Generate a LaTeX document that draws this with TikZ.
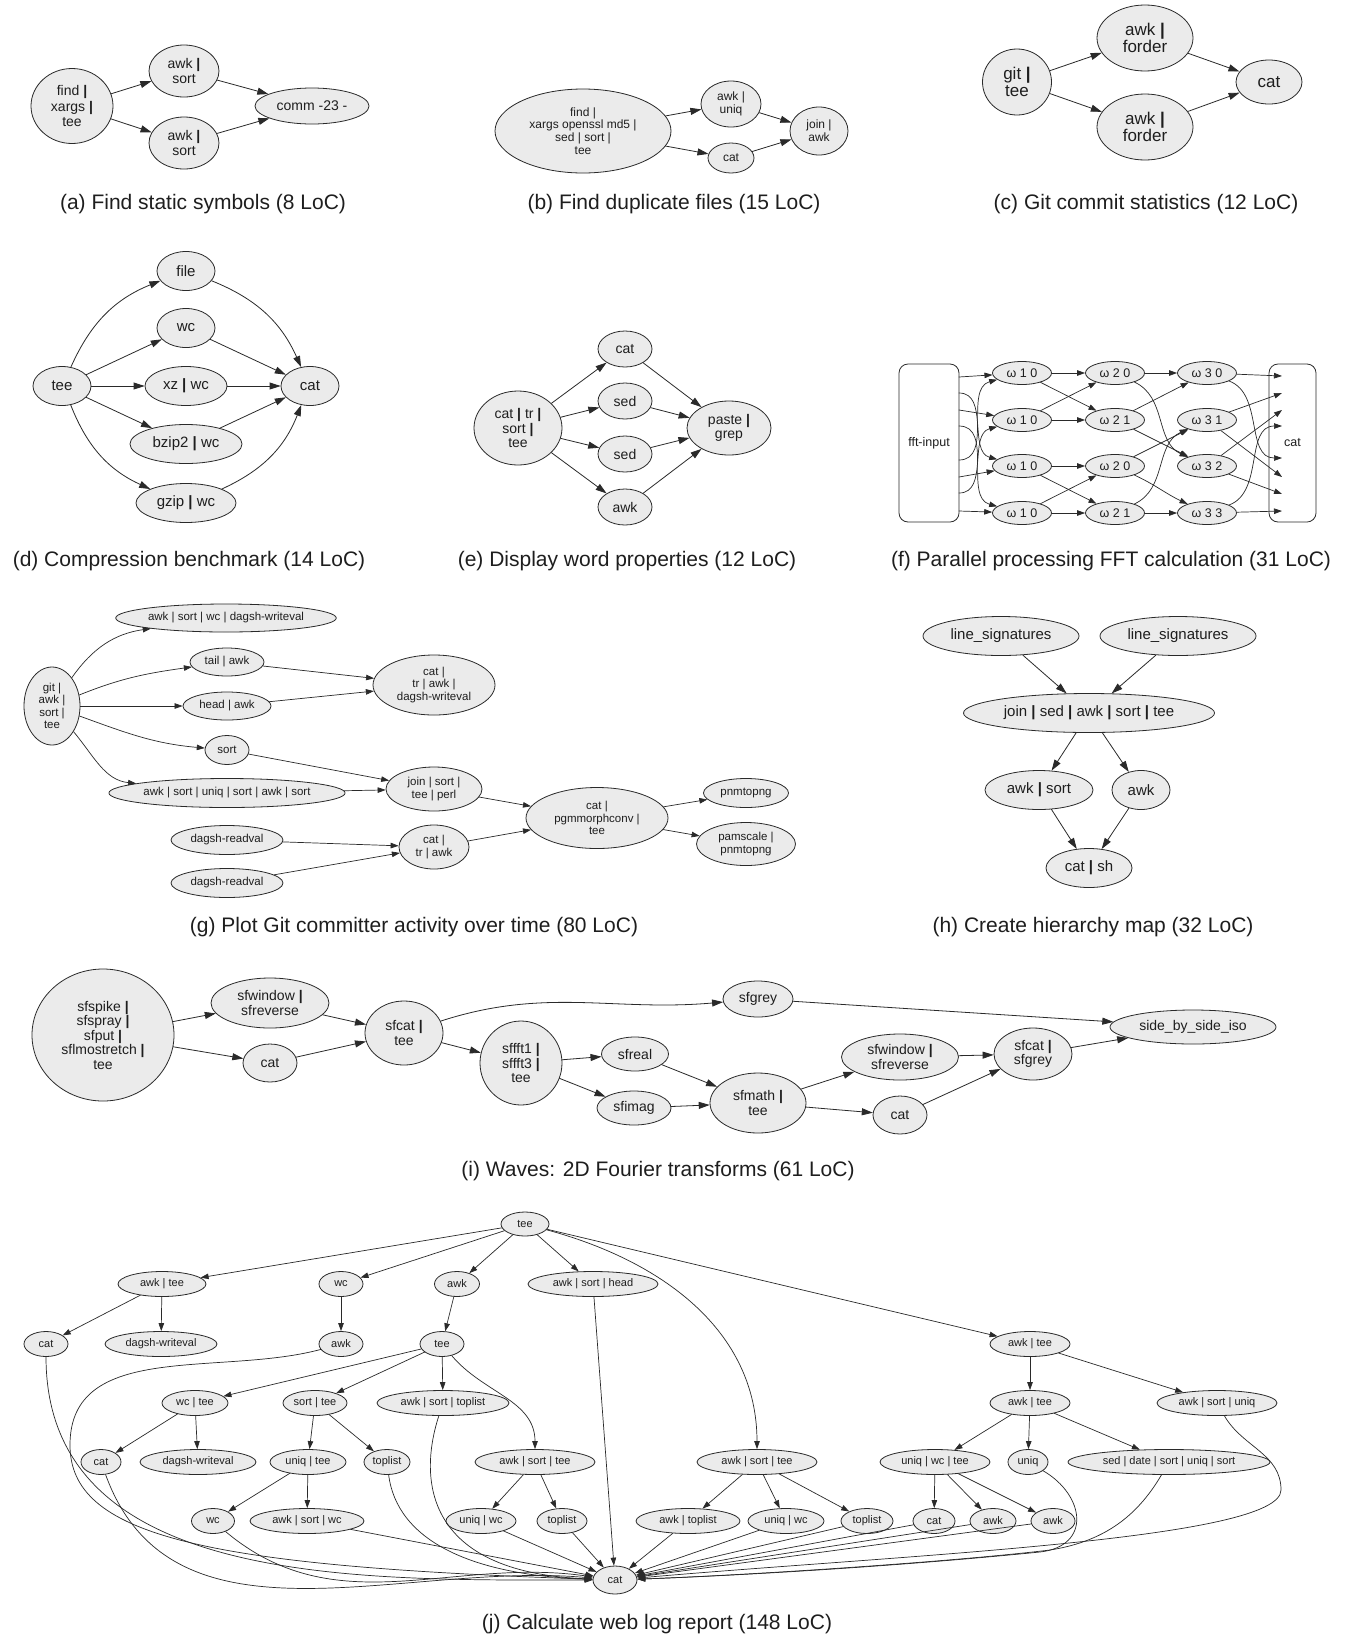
\documentclass[tikz,border=0pt]{standalone}
\usepackage{fontspec}
\setmainfont{Liberation Sans}
\usetikzlibrary{shapes.geometric,arrows.meta}
\definecolor{nfill}{HTML}{EBEBEB}
\definecolor{ln}{HTML}{2A2A2A}
\definecolor{tx}{HTML}{1E1E1E}
\newcommand{\bp}{\textbf{|}}
\tikzset{
  pn/.style 2 args={ellipse,draw=ln,fill=nfill,line width=0.8pt,inner sep=0pt,align=center,text=tx,minimum width=#1,minimum height=#2},
  port/.style={draw=ln,fill=white,rounded corners=9pt,line width=0.8pt,text=tx,inner sep=0pt},
  arr/.style={draw=ln,line width=0.8pt,-{Triangle[length=11pt,width=7pt]}},
  arrs/.style={draw=ln,line width=0.7pt,-{Triangle[length=8pt,width=5.5pt]}},
  subcap/.style={font=\fontsize{21}{24}\selectfont,text=tx}
}
\begin{document}
\begin{tikzpicture}[x=1pt,y=-1pt,line cap=round,line join=round]
\useasboundingbox[fill=white] (0,0) rectangle (1353,1639);

% (a)
\begin{scope}[font=\fontsize{14}{15.3}\selectfont]
\node[pn={82}{75}] (a1) at (72,106) {find \bp\\xargs \bp\\tee};
\node[pn={70}{52}] (a2) at (184,71) {awk \bp\\sort};
\node[pn={70}{52}] (a3) at (184,143) {awk \bp\\sort};
\node[pn={114}{36}] (a4) at (312,106) {comm -23 -};
\draw[arr] (a1) -- (a2);
\draw[arr] (a1) -- (a3);
\draw[arr] (a2) -- (a4);
\draw[arr] (a3) -- (a4);
\end{scope}
\node[subcap] (capa) at (203,204) {(a) Find static symbols (8 LoC)};

% (b)
\begin{scope}[font=\fontsize{12}{12.8}\selectfont]
\node[pn={176}{84}] (b1) at (583,131) {find |\\xargs openssl md5 |\\sed | sort |\\tee};
\node[pn={60}{46}] (b2) at (731,104) {awk |\\uniq};
\node[pn={46}{30}] (b3) at (731,158) {cat};
\node[pn={58}{48}] (b4) at (819,131) {join |\\awk};
\draw[arr] (b1) -- (b2);
\draw[arr] (b1) -- (b3);
\draw[arr] (b2) -- (b4);
\draw[arr] (b3) -- (b4);
\end{scope}
\node[subcap] (capb) at (674,204) {(b) Find duplicate files (15 LoC)};

% (c)
\begin{scope}[font=\fontsize{17}{17.5}\selectfont]
\node[pn={69}{66}] (c1) at (1017,82) {git \bp\\tee};
\node[pn={96}{66}] (c2) at (1145,38) {awk \bp\\forder};
\node[pn={96}{66}] (c3) at (1145,127) {awk \bp\\forder};
\node[pn={66}{44}] (c4) at (1269,82) {cat};
\draw[arr] (c1) -- (c2);
\draw[arr] (c1) -- (c3);
\draw[arr] (c2) -- (c4);
\draw[arr] (c3) -- (c4);
\end{scope}
\node[subcap] (capc) at (1146,204) {(c) Git commit statistics (12 LoC)};

% (d)
\begin{scope}[font=\fontsize{15}{16}\selectfont]
\node[pn={58}{39}] (d1) at (62,386) {tee};
\node[pn={58}{39}] (d2) at (186,271) {file};
\node[pn={58}{39}] (d3) at (186,328) {wc};
\node[pn={82}{39}] (d4) at (186,386) {xz \bp{} wc};
\node[pn={112}{39}] (d5) at (186,444) {bzip2 \bp{} wc};
\node[pn={100}{39}] (d6) at (186,503) {gzip \bp{} wc};
\node[pn={58}{39}] (d7) at (310,386) {cat};
\draw[arr] (d1) to[bend left=22] (d2);
\draw[arr] (d1) -- (d3);
\draw[arr] (d1) -- (d4);
\draw[arr] (d1) -- (d5);
\draw[arr] (d1) to[bend right=22] (d6);
\draw[arr] (d2) to[bend left=22] (d7);
\draw[arr] (d3) -- (d7);
\draw[arr] (d4) -- (d7);
\draw[arr] (d5) -- (d7);
\draw[arr] (d6) to[bend right=22] (d7);
\end{scope}
\node[subcap] (capd) at (189,561) {(d) Compression benchmark (14 LoC)};

% (e)
\begin{scope}[font=\fontsize{14}{14.6}\selectfont]
\node[pn={88}{74}] (e1) at (518,428) {cat \bp{} tr \bp\\sort \bp\\tee};
\node[pn={54}{36}] (e2) at (625,349) {cat};
\node[pn={54}{36}] (e3) at (625,401) {sed};
\node[pn={54}{36}] (e4) at (625,454) {sed};
\node[pn={54}{36}] (e5) at (625,507) {awk};
\node[pn={84}{54}] (e6) at (729,428) {paste \bp\\grep};
\foreach \k in {e2,e3,e4,e5} {
  \draw[arr] (e1) -- (\k);
  \draw[arr] (\k) -- (e6);
}
\end{scope}
\node[subcap] (cape) at (627,561) {(e) Display word properties (12 LoC)};

% (f)
\begin{scope}[font=\fontsize{12.5}{13}\selectfont]
\node[port,minimum width=60,minimum height=158] (ff) at (929,443) {fft-input};
\node[port,minimum width=47,minimum height=158] (fc) at (1292.5,443) {cat};
\node[pn={59}{23}] (w1a) at (1022,373) {ω 1 0};
\node[pn={59}{23}] (w1b) at (1022,420) {ω 1 0};
\node[pn={59}{23}] (w1c) at (1022,466) {ω 1 0};
\node[pn={59}{23}] (w1d) at (1022,513) {ω 1 0};
\node[pn={59}{23}] (w2a) at (1115,373) {ω 2 0};
\node[pn={59}{23}] (w2b) at (1115,420) {ω 2 1};
\node[pn={59}{23}] (w2c) at (1115,466) {ω 2 0};
\node[pn={59}{23}] (w2d) at (1115,513) {ω 2 1};
\node[pn={59}{23}] (w3a) at (1207,373) {ω 3 0};
\node[pn={59}{23}] (w3b) at (1207,420) {ω 3 1};
\node[pn={59}{23}] (w3c) at (1207,466) {ω 3 2};
\node[pn={59}{23}] (w3d) at (1207,513) {ω 3 3};
\coordinate (fo0) at (959,377); \coordinate (fo1) at (959,393);
\coordinate (fo2) at (959,410); \coordinate (fo3) at (959,426);
\coordinate (fo4) at (959,460); \coordinate (fo5) at (959,477);
\coordinate (fo6) at (959,493); \coordinate (fo7) at (959,511);
\coordinate (fi0) at (1282,376); \coordinate (fi1) at (1282,393);
\coordinate (fi2) at (1282,410); \coordinate (fi3) at (1282,426);
\coordinate (fi4) at (1282,458); \coordinate (fi5) at (1282,477);
\coordinate (fi6) at (1282,494); \coordinate (fi7) at (1282,511);
\draw[arrs] (fo0) -- (w1a);
\draw[arrs] (fo1) to[out=0,in=165] (w1c);
\draw[arrs] (fo2) -- (w1b);
\draw[arrs] (fo3) to[out=0,in=165] (w1d);
\draw[arrs] (fo4) to[out=0,in=195] (w1a);
\draw[arrs] (fo5) -- (w1c);
\draw[arrs] (fo6) to[out=0,in=195] (w1b);
\draw[arrs] (fo7) -- (w1d);
\draw[arrs] (w1a) -- (w2a);
\draw[arrs] (w1a) -- (w2b);
\draw[arrs] (w1b) -- (w2a);
\draw[arrs] (w1b) -- (w2b);
\draw[arrs] (w1c) -- (w2c);
\draw[arrs] (w1c) -- (w2d);
\draw[arrs] (w1d) -- (w2c);
\draw[arrs] (w1d) -- (w2d);
\draw[arrs] (w2a) -- (w3a);
\draw[arrs] (w2a) to[out=-25,in=155] (w3c);
\draw[arrs] (w2b) -- (w3a);
\draw[arrs] (w2b) -- (w3c);
\draw[arrs] (w2c) -- (w3b);
\draw[arrs] (w2c) to[out=-25,in=155] (w3d);
\draw[arrs] (w2d) to[out=25,in=205] (w3b);
\draw[arrs] (w2d) -- (w3d);
\draw[arrs] (w3a) -- (fi0);
\draw[arrs] (w3a) to[out=-20,in=180] (fi4);
\draw[arrs] (w3b) -- (fi1);
\draw[arrs] (w3b) -- (fi5);
\draw[arrs] (w3c) -- (fi2);
\draw[arrs] (w3c) -- (fi6);
\draw[arrs] (w3d) to[out=20,in=180] (fi3);
\draw[arrs] (w3d) -- (fi7);
\end{scope}
\node[subcap] (capf) at (1111,561) {(f) Parallel processing FFT calculation (31 LoC)};

% (g)
\begin{scope}[font=\fontsize{11.5}{12.5}\selectfont]
\node[pn={56}{78}] (g1) at (52,706) {git |\\awk |\\sort |\\tee};
\node[pn={220}{28}] (g2) at (226,618) {awk | sort | wc | dagsh-writeval};
\node[pn={74}{28}] (g3) at (227,662) {tail | awk};
\node[pn={88}{28}] (g4) at (227,706) {head | awk};
\node[pn={122}{60}] (g5) at (434,685) {cat |\\tr | awk |\\dagsh-writeval};
\node[pn={44}{29}] (g6) at (227,750) {sort};
\node[pn={234}{29}] (g7) at (227,793) {awk | sort | uniq | sort | awk | sort};
\node[pn={96}{44}] (g8) at (434,789) {join | sort |\\tee | perl};
\node[pn={112}{29}] (g9) at (227,840) {dagsh-readval};
\node[pn={112}{29}] (g10) at (227,883) {dagsh-readval};
\node[pn={70}{44}] (g11) at (434,847) {cat |\\tr | awk};
\node[pn={142}{61}] (g12) at (597,818) {cat |\\pgmmorphconv |\\tee};
\node[pn={85}{29}] (g13) at (746,793) {pnmtopng};
\node[pn={99}{43}] (g14) at (746,844) {pamscale |\\pnmtopng};
\draw[arrs] (g1) to[out=55,in=188] (g2);
\draw[arrs] (g1) to[out=22,in=188] (g3);
\draw[arrs] (g1) -- (g4);
\draw[arrs] (g1) to[out=-20,in=175] (g6);
\draw[arrs] (g1) to[out=-50,in=174] (g7);
\draw[arrs] (g3) -- (g5);
\draw[arrs] (g4) -- (g5);
\draw[arrs] (g6) -- (g8);
\draw[arrs] (g7) -- (g8);
\draw[arrs] (g9) -- (g11);
\draw[arrs] (g10) -- (g11);
\draw[arrs] (g8) -- (g12);
\draw[arrs] (g11) -- (g12);
\draw[arrs] (g12) -- (g13);
\draw[arrs] (g12) -- (g14);
\end{scope}
\node[subcap] (capg) at (414,927) {(g) Plot Git committer activity over time (80 LoC)};

% (h)
\begin{scope}[font=\fontsize{15}{16}\selectfont]
\node[pn={156}{39}] (h1) at (1001,636) {line\_signatures};
\node[pn={156}{39}] (h2) at (1178,636) {line\_signatures};
\node[pn={251}{39}] (h3) at (1089,713) {join \bp{} sed \bp{} awk \bp{} sort \bp{} tee};
\node[pn={108}{39}] (h4) at (1039,790) {awk \bp{} sort};
\node[pn={58}{39}] (h5) at (1141,790) {awk};
\node[pn={86}{39}] (h6) at (1089,868) {cat \bp{} sh};
\draw[arr] (h1) -- (h3);
\draw[arr] (h2) -- (h3);
\draw[arr] (h3) -- (h4);
\draw[arr] (h3) -- (h5);
\draw[arr] (h4) -- (h6);
\draw[arr] (h5) -- (h6);
\end{scope}
\node[subcap] (caph) at (1093,927) {(h) Create hierarchy map (32 LoC)};

% (i)
\begin{scope}[font=\fontsize{14}{14.5}\selectfont]
\node[pn={142}{132}] (i1) at (103,1035) {sfspike \bp\\sfspray \bp\\sfput \bp\\sflmostretch \bp\\tee};
\node[pn={118}{50}] (i2) at (270,1003) {sfwindow \bp\\sfreverse};
\node[pn={54}{38}] (i3) at (270,1063) {cat};
\node[pn={78}{64}] (i4) at (404,1033) {sfcat \bp\\tee};
\node[pn={82}{84}] (i5) at (521,1063) {sffft1 \bp\\sffft3 \bp\\tee};
\node[pn={67}{34}] (i6) at (635,1054) {sfreal};
\node[pn={74}{34}] (i7) at (634,1108) {sfimag};
\node[pn={70}{36}] (i8) at (758,999) {sfgrey};
\node[pn={96}{60}] (i9) at (758,1103) {sfmath \bp\\tee};
\node[pn={117}{46}] (i10) at (900,1057) {sfwindow \bp\\sfreverse};
\node[pn={54}{38}] (i11) at (900,1115) {cat};
\node[pn={78}{52}] (i12) at (1033,1054) {sfcat \bp\\sfgrey};
\node[pn={166}{34}] (i13) at (1193,1027) {side\_by\_side\_iso};
\draw[arr] (i1) -- (i2);
\draw[arr] (i1) -- (i3);
\draw[arr] (i2) -- (i4);
\draw[arr] (i3) -- (i4);
\draw[arr] (i4) to[out=18,in=185] (i8);
\draw[arr] (i4) -- (i5);
\draw[arr] (i5) -- (i6);
\draw[arr] (i5) -- (i7);
\draw[arr] (i6) -- (i9);
\draw[arr] (i7) -- (i9);
\draw[arr] (i9) -- (i10);
\draw[arr] (i9) -- (i11);
\draw[arr] (i10) -- (i12);
\draw[arr] (i11) -- (i12);
\draw[arr] (i12) -- (i13);
\draw[arr] (i8) -- (i13);
\end{scope}
\node[subcap] (capi) at (658,1171) {(i) Waves: 2D Fourier transforms (61 LoC)};

% (j)
\begin{scope}[font=\fontsize{11}{12}\selectfont]
\node[pn={48}{24}] (j0) at (525,1224) {tee};
\node[pn={88}{25}] (j1) at (162,1284) {awk | tee};
\node[pn={44}{25}] (j2) at (341,1284) {wc};
\node[pn={45}{25}] (j3) at (457,1284) {awk};
\node[pn={130}{25}] (j4) at (593,1284) {awk | sort | head};
\node[pn={44}{25}] (j5) at (46,1344) {cat};
\node[pn={112}{25}] (j6) at (161,1344) {dagsh-writeval};
\node[pn={44}{25}] (j7) at (341,1344) {awk};
\node[pn={44}{25}] (j8) at (442,1344) {tee};
\node[pn={80}{25}] (j9) at (1030,1344) {awk | tee};
\node[pn={66}{25}] (j10) at (195,1403) {wc | tee};
\node[pn={64}{25}] (j11) at (315,1403) {sort | tee};
\node[pn={132}{25}] (j12) at (443,1403) {awk | sort | toplist};
\node[pn={80}{25}] (j13) at (1030,1403) {awk | tee};
\node[pn={120}{25}] (j14) at (1217,1403) {awk | sort | uniq};
\node[pn={40}{25}] (j15) at (101,1462) {cat};
\node[pn={116}{25}] (j16) at (198,1462) {dagsh-writeval};
\node[pn={76}{25}] (j17) at (308,1462) {uniq | tee};
\node[pn={46}{25}] (j18) at (387,1462) {toplist};
\node[pn={120}{25}] (j19) at (535,1462) {awk | sort | tee};
\node[pn={120}{25}] (j20) at (757,1462) {awk | sort | tee};
\node[pn={110}{25}] (j21) at (935,1462) {uniq | wc | tee};
\node[pn={40}{25}] (j22) at (1028,1462) {uniq};
\node[pn={202}{25}] (j23) at (1169,1462) {sed | date | sort | uniq | sort};
\node[pn={43}{25}] (j24) at (213,1521) {wc};
\node[pn={114}{25}] (j25) at (307,1521) {awk | sort | wc};
\node[pn={70}{25}] (j26) at (481,1521) {uniq | wc};
\node[pn={50}{25}] (j27) at (562,1521) {toplist};
\node[pn={104}{25}] (j28) at (688,1521) {awk | toplist};
\node[pn={76}{25}] (j29) at (786,1521) {uniq | wc};
\node[pn={52}{25}] (j30) at (867,1521) {toplist};
\node[pn={42}{25}] (j31) at (934,1521) {cat};
\node[pn={46}{25}] (j32) at (993,1521) {awk};
\node[pn={44}{25}] (j33) at (1053,1521) {awk};
\node[pn={44}{28}] (jc) at (615,1580) {cat};
\draw[arrs] (j0) -- (j1);
\draw[arrs] (j0) -- (j2);
\draw[arrs] (j0) -- (j3);
\draw[arrs] (j0) -- (j4);
\draw[arrs] (j0) to[out=-15,in=90] (j20);
\draw[arrs] (j0) -- (j9);
\draw[arrs] (j1) -- (j5);
\draw[arrs] (j1) -- (j6);
\draw[arrs] (j2) -- (j7);
\draw[arrs] (j3) -- (j8);
\draw[arrs] (j4) -- (jc);
\draw[arrs] (j5) to[out=-90,in=180] (jc);
\draw[arrs] (j7) to[out=195,in=90] (70,1445) .. controls (70,1535) and (200,1566) .. (jc);
\draw[arrs] (j8) -- (j10);
\draw[arrs] (j8) -- (j11);
\draw[arrs] (j8) -- (j12);
\draw[arrs] (j8) to[out=-50,in=90] (j19);
\draw[arrs] (j9) -- (j13);
\draw[arrs] (j9) -- (j14);
\draw[arrs] (j10) -- (j15);
\draw[arrs] (j10) -- (j16);
\draw[arrs] (j11) -- (j17);
\draw[arrs] (j11) -- (j18);
\draw[arrs] (j12) .. controls (418,1480) and (425,1572) .. (jc);
\draw[arrs] (j13) -- (j21);
\draw[arrs] (j13) -- (j22);
\draw[arrs] (j13) -- (j23);
\draw[arrs] (j14) to[out=-60,in=90] (1281,1490) .. controls (1281,1540) and (900,1555) .. (jc);
\draw[arrs] (j15) to[out=-70,in=175] (jc);
\draw[arrs] (j17) -- (j24);
\draw[arrs] (j17) -- (j25);
\draw[arrs] (j18) .. controls (397,1540) and (470,1575) .. (jc);
\draw[arrs] (j19) -- (j26);
\draw[arrs] (j19) -- (j27);
\draw[arrs] (j20) -- (j28);
\draw[arrs] (j20) -- (j29);
\draw[arrs] (j20) -- (j30);
\draw[arrs] (j21) -- (j31);
\draw[arrs] (j21) -- (j32);
\draw[arrs] (j21) -- (j33);
\draw[arrs] (j22) .. controls (1085,1495) and (1092,1546) .. (1040,1552) .. controls (900,1566) and (750,1575) .. (jc);
\draw[arrs] (j23) .. controls (1135,1520) and (1100,1542) .. (1050,1550) .. controls (950,1562) and (750,1575) .. (jc);
\draw[arrs] (j24) to[out=-40,in=172] (jc);
\foreach \k in {j25,j26,j27,j28,j29,j30,j31,j32,j33}
  \draw[arrs] (\k) -- (jc);
\end{scope}
\node[subcap] (capj) at (657,1624) {(j) Calculate web log report (148 LoC)};
\end{tikzpicture}
\end{document}
